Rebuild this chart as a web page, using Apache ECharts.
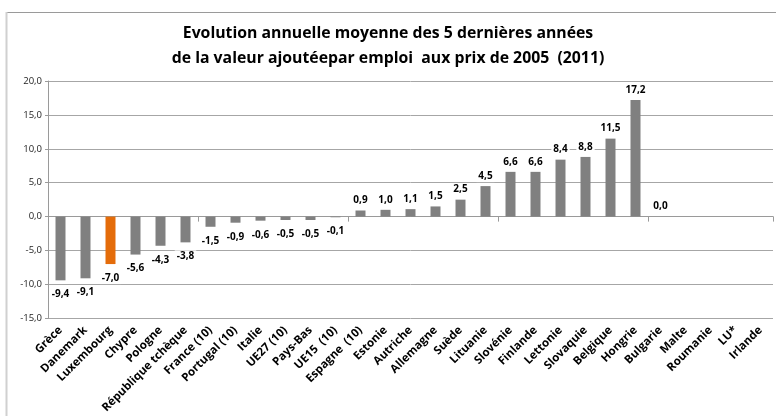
<!DOCTYPE html>
<html>
<head>
<meta charset="utf-8">
<script src="https://cdn.jsdelivr.net/npm/echarts@6/dist/echarts.min.js"></script>
<style>
	html, body { margin: 0; padding: 0; background: #fff; }
	#container { width: 776px; height: 416px; }
</style>
</head>
<body>
<div id="container"></div>
<script>
var countries = ['Grèce', 'Danemark', 'Luxembourg', 'Chypre', 'Pologne', 'République tchèque',
	'France (10)', 'Portugal (10)', 'Italie', 'UE27 (10)', 'Pays-Bas', 'UE15  (10)', 'Espagne  (10)',
	'Estonie', 'Autriche', 'Allemagne', 'Suède', 'Lituanie', 'Slovénie', 'Finlande', 'Lettonie',
	'Slovaquie', 'Belgique', 'Hongrie', 'Bulgarie', 'Malte', 'Roumanie', 'LU*', 'Irlande'];
var values = [-9.4, -9.1, -7.0, -5.6, -4.3, -3.8, -1.5, -0.9, -0.6, -0.5, -0.5, -0.1, 0.9,
	1.0, 1.1, 1.5, 2.5, 4.5, 6.6, 6.6, 8.4, 8.8, 11.5, 17.2, 0.0, null, null, null, null];
var highlight = 'Luxembourg';
var yTicks = { min: -15, max: 20, interval: 5 };

var font = '"Open Sans", sans-serif';

function comma(v) {
	return v.toFixed(1).replace('.', ',');
}

var barData = values.map(function (v, i) {
	if (v === null) return '-';
	var item = { value: v };
	if (countries[i] === highlight) {
		item.itemStyle = { color: '#E46C0A' };
	}
	item.label = { position: v < 0 ? 'bottom' : 'top', distance: v < 0 ? 8 : 4 };
	return item;
});

var myChart = echarts.init(document.getElementById('container'));
var option = {
	animation: false,
	title: {
		text: 'Evolution annuelle moyenne des 5 dernières années\nde la valeur ajoutéepar emploi  aux prix de 2005  (2011)',
		left: 'center',
		top: 16,
		textStyle: { fontFamily: font, fontWeight: 'bold', fontSize: 15.8, lineHeight: 25, color: '#000' }
	},
	graphic: [
		{ type: 'line', shape: { x1: 6, y1: 12.5, x2: 776, y2: 12.5 }, style: { stroke: '#9a9a9a', lineWidth: 1 } },
		{ type: 'line', shape: { x1: 6.5, y1: 12, x2: 6.5, y2: 416 }, style: { stroke: '#d0d0d0', lineWidth: 2 } }
	],
	grid: { left: 48, right: 3, top: 81, bottom: 96, containLabel: false },
	xAxis: [{
		type: 'category',
		data: countries,
		position: 'bottom',
		axisLine: { show: false, onZero: false },
		axisTick: { show: false },
		axisLabel: {
			interval: 0, rotate: 45, margin: 10,
			fontFamily: font, fontWeight: 'bold', fontSize: 11.5, color: '#000'
		}
	}, {
		type: 'category',
		data: countries,
		position: 'bottom',
		axisLine: { show: true, onZero: true, lineStyle: { color: '#9a9a9a' } },
		axisTick: { show: true, length: 5, lineStyle: { color: '#9a9a9a' } },
		axisLabel: { show: false }
	}],
	yAxis: {
		type: 'value',
		min: yTicks.min,
		max: yTicks.max,
		interval: yTicks.interval,
		axisLine: { show: true, lineStyle: { color: '#9a9a9a' } },
		axisTick: { show: true, length: 3, lineStyle: { color: '#9a9a9a' } },
		axisLabel: {
			formatter: function (v) { return comma(v); },
			fontFamily: font, fontSize: 9.5, color: '#222', margin: 6
		},
		splitLine: { show: true, lineStyle: { color: '#a6a6a6' } }
	},
	series: [{
		type: 'bar',
		xAxisIndex: 0,
		data: barData,
		barWidth: 10,
		itemStyle: { color: '#808080' },
		label: {
			show: true,
			formatter: function (p) { return comma(p.value); },
			fontFamily: font, fontWeight: 'bold', fontSize: 10, color: '#000',
			backgroundColor: '#fff', padding: [1, 2]
		}
	}]
};
myChart.setOption(option, true);
</script>
</body>
</html>
